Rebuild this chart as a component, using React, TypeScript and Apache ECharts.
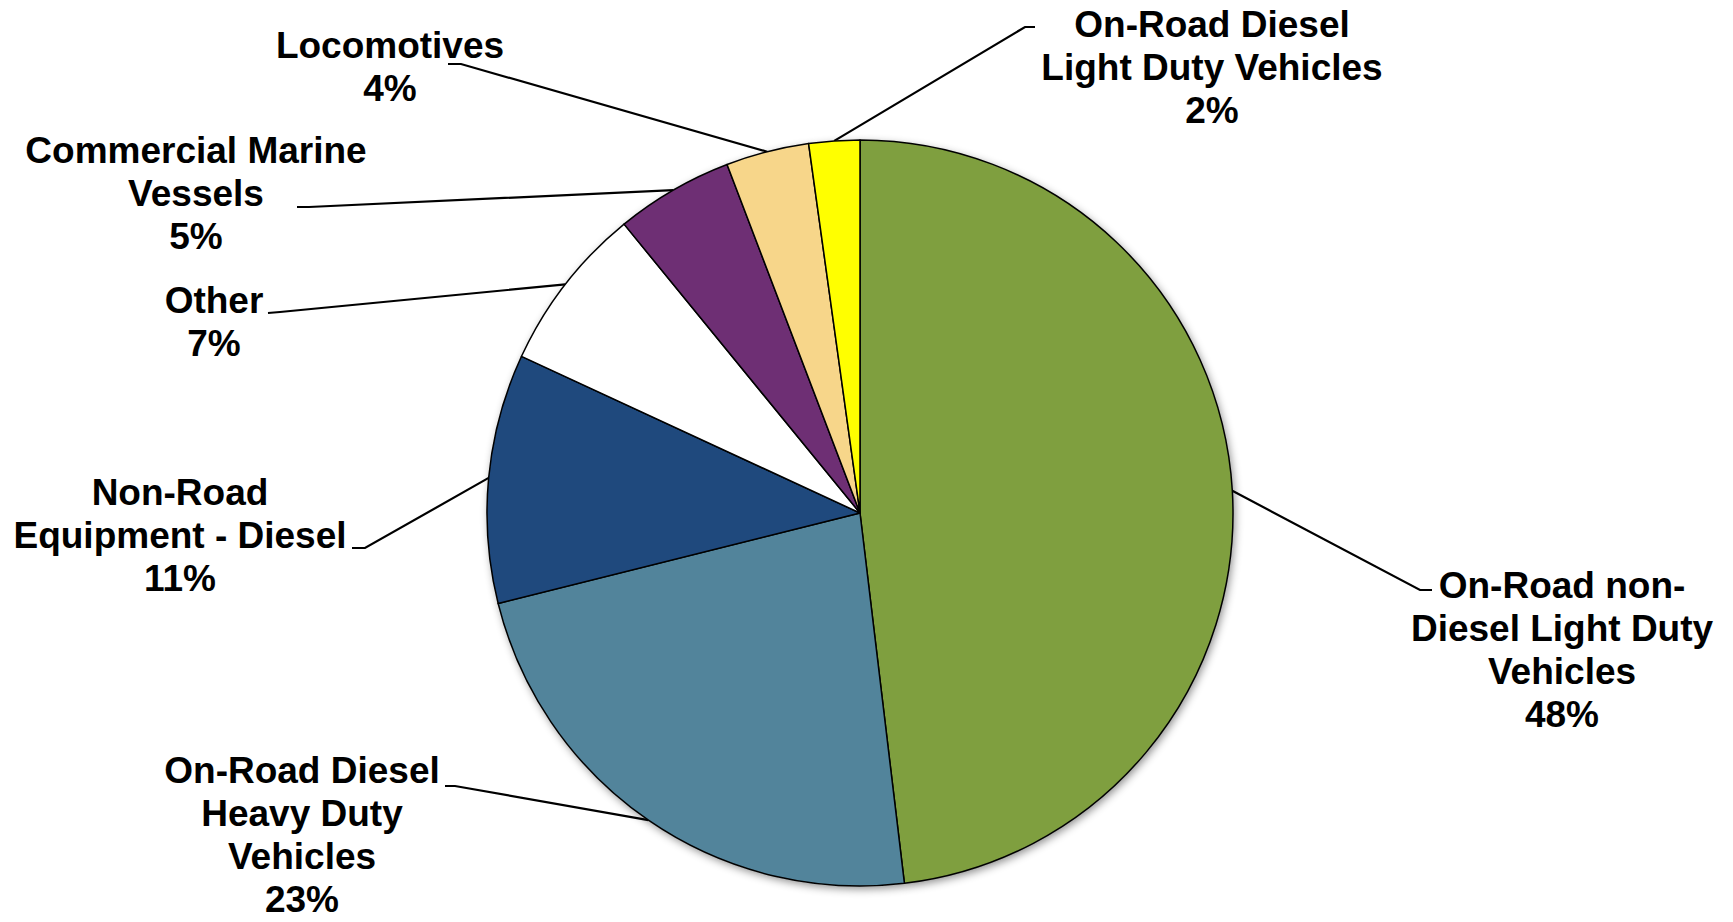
import React, { useEffect, useRef } from "react";
import * as echarts from "echarts";

// ---- data ----
const categories = [
  "On-Road non-\nDiesel Light Duty\nVehicles",
  "On-Road Diesel\nHeavy Duty\nVehicles",
  "Non-Road\nEquipment - Diesel",
  "Other",
  "Commercial Marine\nVessels",
  "Locomotives",
  "On-Road Diesel\nLight Duty Vehicles",
];
const shares = [48.1, 23.0, 10.8, 7.2, 5.1, 3.6, 2.2];
const colors = ["#7F9F3F", "#52849B", "#1F497D", "#FFFFFF", "#6E2F74", "#F7D68A", "#FFFF00"];

// ---- label layout (pixels): label centre, and the short stub of each leader line ----
const labelCenters = [
  [1562, 650],
  [302, 835],
  [180, 535],
  [214, 322],
  [196, 193],
  [390, 67],
  [1212, 67],
];
const stubNear = [
  [1432, 590],
  [445, 786],
  [352, 548],
  [268, 313],
  [297, 207],
  [448, 64],
  [1035, 27],
];
const stubFar = [
  [1420, 590],
  [455, 786],
  [365, 548],
  [280, 312],
  [309, 207],
  [461, 64],
  [1025, 27],
];

export default function App() {
  const ref = useRef<HTMLDivElement>(null);

  useEffect(() => {
    if (!ref.current) return;
    const chart = echarts.init(ref.current, undefined, { renderer: "svg" });
    const data = categories.map((name, i) => ({
      name,
      value: shares[i],
      itemStyle: { color: colors[i] },
    }));
    chart.setOption({
      animation: false,
      backgroundColor: "#FFFFFF",
      series: [
        {
          type: "pie",
          silent: true,
          center: [860, 513],
          radius: [0, 373],
          startAngle: 90,
          clockwise: true,
          data: categories.map((name, i) => ({ name, value: shares[i] })),
          itemStyle: {
            color: "#FFFFFF",
            shadowBlur: 8,
            shadowColor: "rgba(0,0,0,0.45)",
            shadowOffsetX: 2,
            shadowOffsetY: 3,
          },
          label: { show: false },
          labelLine: { show: false },
          z: 1,
        },
        {
          type: "pie",
          center: [860, 513],
          radius: [0, 373],
          startAngle: 90,
          clockwise: true,
          avoidLabelOverlap: false,
          data,
          itemStyle: { borderColor: "#000000", borderWidth: 1.5 },
          label: {
            show: true,
            position: "outside",
            overflow: "none",
            color: "#000000",
            fontFamily: "Liberation Sans, Arial, sans-serif",
            fontWeight: "bold",
            fontSize: 37,
            lineHeight: 43,
            align: "center",
            formatter: (p: any) => `${p.name}\n${Math.round(p.percent)}%`,
          },
          labelLine: {
            show: true,
            length: 10,
            length2: 10,
            smooth: false,
            lineStyle: { color: "#000000", width: 2.2 },
          },
          labelLayout: (params: any) => {
            const i = params.dataIndex;
            const anchor = params.labelLinePoints
              ? params.labelLinePoints[0]
              : stubFar[i];
            return {
              x: labelCenters[i][0],
              y: labelCenters[i][1],
              align: "center",
              verticalAlign: "middle",
              labelLinePoints: [anchor, stubFar[i], stubNear[i]],
            };
          },
          z: 2,
        },
      ],
    });
    return () => chart.dispose();
  }, []);

  return (
    <div
      ref={ref}
      style={{ position: "fixed", left: 0, top: 0, width: "100vw", height: "100vh" }}
    />
  );
}
